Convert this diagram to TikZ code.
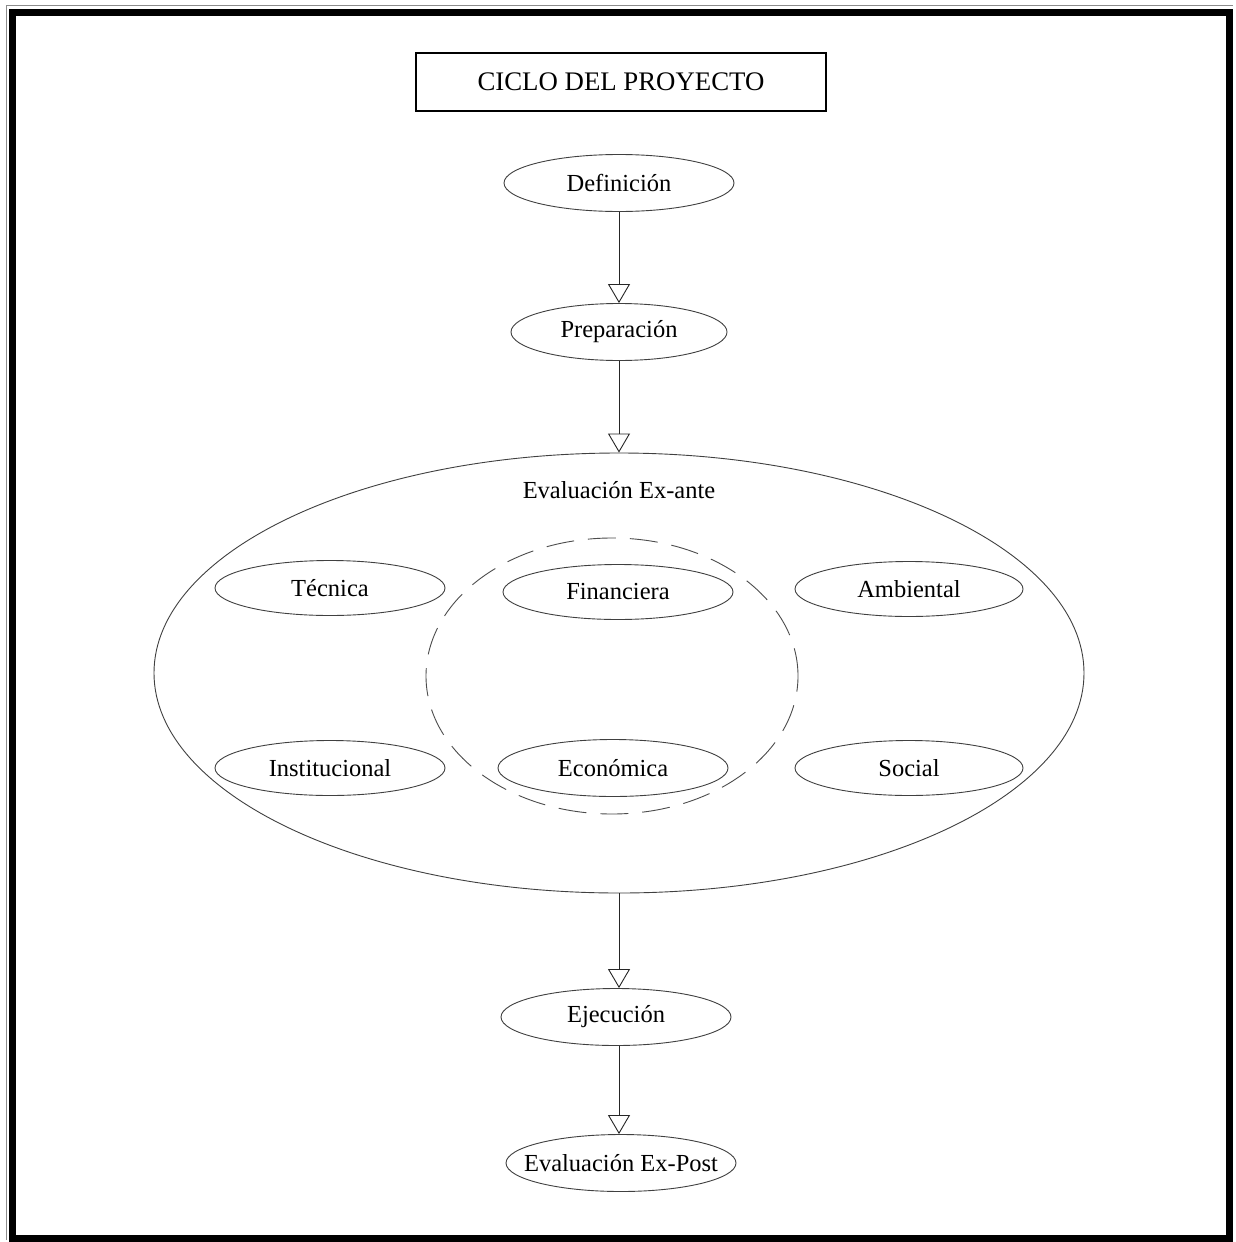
\documentclass[tikz,border=0pt]{standalone}
\usepackage{fontspec}
\setmainfont{Liberation Serif}
\usetikzlibrary{shapes.geometric,arrows.meta}

\begin{document}
\begin{tikzpicture}[x=1pt,y=-1pt,
  lbl/.style={font=\fontsize{24.5}{28}\selectfont},
  oval/.style={draw=black!75, line width=0.9pt, ellipse, inner xsep=-50pt, inner ysep=0pt,
               minimum width=230pt, minimum height=57pt, lbl},
  arr/.style={draw=black!85, line width=0.9pt,
              -{Triangle[open, length=19pt, width=22pt, line width=0.9pt]}},
  titlebox/.style={draw, line width=1.5pt, minimum width=410pt, minimum height=58pt,
                   inner sep=0pt, font=\fontsize{26.8}{30}\selectfont},
  frame/.style={line width=7pt}]

  \useasboundingbox (0,0) rectangle (1235,1242);
  \fill[white] (0,0) rectangle (1235,1242);

  % page frame
  \draw[black!45, line width=0.8pt] (6,1240) -- (6,5) -- (1233,5);
  \draw[frame] (12.5,12) rectangle (1229.5,1238.5);

  % title
  \node[titlebox] (title) at (621,82) {CICLO DEL PROYECTO};

  % main sequence
  \node[oval] (def)  at (619,183)  {Definición};
  \node[oval, minimum width=216pt] (prep) at (619,332) {Preparación};

  % ex-ante evaluation
  \node[draw=black!75, line width=0.9pt, ellipse, inner sep=0pt,
        minimum width=930pt, minimum height=440pt] (exante) at (619,673) {};
  \node[lbl] (exantelbl) at (619,490) {Evaluación Ex-ante};

  \node[draw=black!70, line width=0.9pt, dash pattern=on 28pt off 14pt, ellipse,
        inner sep=0pt, minimum width=372pt, minimum height=276pt] (core) at (612,676) {};

  \node[oval, minimum height=55pt] (tec)  at (330,588) {Técnica};
  \node[oval, minimum height=55pt] (fin)  at (618,592) {Financiera};
  \node[oval, minimum width=228pt, minimum height=55pt] (amb)  at (909,589) {Ambiental};
  \node[oval, minimum height=55pt] (inst) at (330,768) {Institucional};
  \node[oval] (eco)  at (613,768) {Económica};
  \node[oval, minimum width=228pt, minimum height=55pt] (soc)  at (909,768) {Social};

  \node[oval] (ejec) at (616,1017) {Ejecución};
  \node[oval] (post) at (621,1163) {Evaluación Ex-Post};

  % connectors
  \draw[arr] (def.south) -- (prep.north);
  \draw[arr] (prep.south) -- (exante.north);
  \draw[arr] (exante.south) -- (exante.south |- ejec.north);
  \draw[arr] (exante.south |- ejec.south) -- (exante.south |- post.north);
\end{tikzpicture}
\end{document}
